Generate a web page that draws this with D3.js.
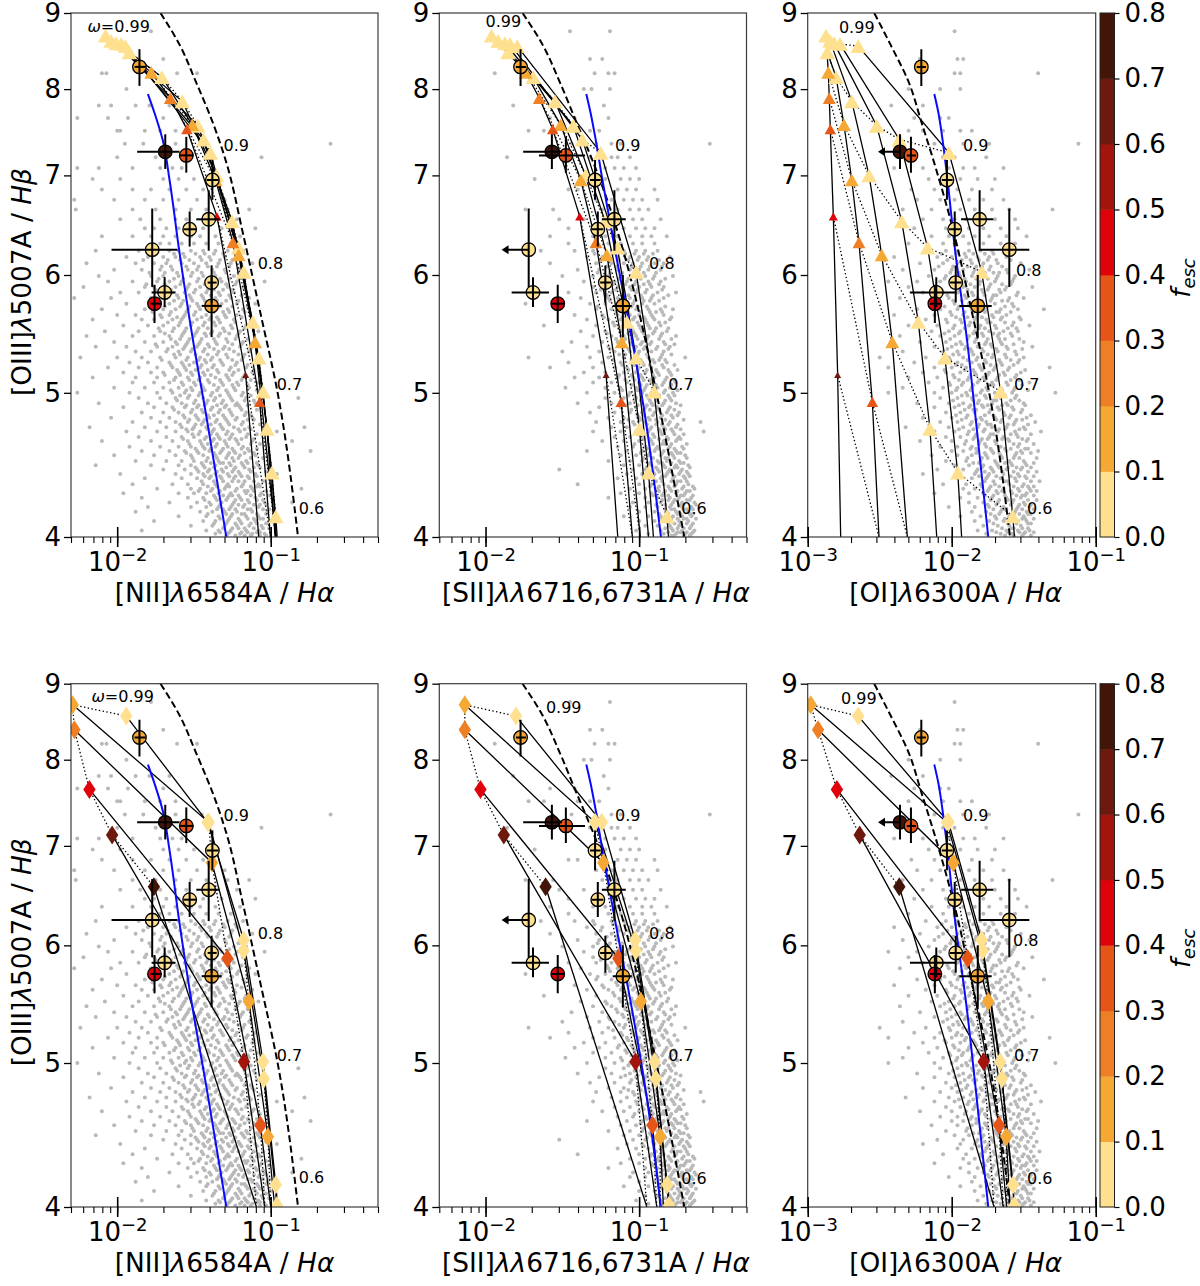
<!DOCTYPE html>
<html>
<head>
<meta charset="utf-8">
<script src="https://d3js.org/d3.v7.min.js"></script>
<style>
body { margin: 0; background: #fff; }
text { font-family: "DejaVu Sans"; fill: #000; }
</style>
</head>
<body>
<svg id="chart" width="1200" height="1286"></svg>
<script>
// every x value below is log10 of the line ratio, y values are [OIII]/Hb
var fescColors = ["#fee08e", "#f6a835", "#ef7f25", "#e55518", "#e0020b", "#a2140c", "#6e190e", "#421508"];
var fescTicks = [0, 0.1, 0.2, 0.3, 0.4, 0.5, 0.6, 0.7, 0.8];
var yTicks = [4, 5, 6, 7, 8, 9];

// observed galaxies, same order in all panels
var obsY = [8.28, 7.26, 7.22, 6.95, 6.54, 6.44, 6.24, 5.93, 5.84, 5.74, 5.72];
var obsYlo = [8.04, 7.07, 7.03, 6.74, 6.23, 6.27, 5.89, 5.75, 5.71, 5.57, 5.45];
var obsYhi = [8.51, 7.46, 7.43, 7.17, 6.84, 6.62, 6.65, 6.09, 5.98, 5.91, 6.00];
var obsFesc = [0.15, 0.75, 0.35, 0.05, 0.05, 0.05, 0.05, 0.05, 0.05, 0.45, 0.15];
var obsNII = [[-1.855,-1.887,-1.815],[-1.687,-1.870,-1.594],[-1.55,-1.594,-1.502],[-1.38,-1.417,-1.339],[-1.404,-1.485,-1.333],[-1.528,-1.568,-1.483],[-1.772,-2.037,-1.607],[-1.385,-1.411,-1.352],[-1.691,-1.776,-1.620],[-1.757,-1.783,-1.711],[-1.385,-1.450,-1.320]];
var obsSII = [[-1.772,-1.802,-1.737],[-1.568,-1.755,-1.502],[-1.477,-1.652,-1.352],[-1.287,-1.320,-1.250],[-1.161,-1.243,-1.087],[-1.269,-1.309,-1.233],[-1.719,-1.889,null],[-1.22,-1.254,-1.183],[-1.691,-1.830,-1.587],[-1.53,-1.569,-1.489],[-1.106,-1.172,-1.048]];
var obsOI = [[-2.211,-2.243,-2.179],[-2.359,-2.505,null],[-2.283,-2.312,-2.248],[-2.033,-2.069,-1.993],[-1.806,-1.935,-1.711],[-1.979,-2.019,-1.937],[-1.6,-1.808,-1.461],[-1.972,-2.012,-1.931],[-2.107,-2.290,-1.970],[-2.117,-2.151,-2.076],[-1.819,-1.947,-1.722]];

// blue ridge line
var blueY = [7.94, 7.71, 7.39, 6.95, 6.24, 5.43, 4.82, 4];
var blueNII = [-1.800,-1.757,-1.703,-1.659,-1.597,-1.507,-1.419,-1.289];
var blueSII = [-1.344,-1.316,-1.282,-1.239,-1.157,-1.046,-0.961,-0.858];
var blueOI = [-2.121,-2.092,-2.063,-2.029,-1.977,-1.894,-1.835,-1.746];

// dashed demarcation
var dashY = [9, 8.57, 8.08, 7.59, 7.14, 6.40, 5.62, 5.05, 4];
var dashNII = [-1.718,-1.594,-1.485,-1.376,-1.289,-1.181,-1.061,-0.963,-0.822];
var dashSII = [-1.759,-1.629,-1.515,-1.406,-1.298,-1.137,-0.993,-0.896,-0.706];
var dashOI = [-2.538,-2.425,-2.297,-2.208,-2.122,-1.984,-1.852,-1.748,-1.595];

// upper row model tracks: one row per track, last point of each is where it leaves the axes
var topY = [
	[8.55,7.25,6.03,5.01,4.13,4],
	[8.58,7.40,6.26,5.28,4.42,4],
	[8.59,7.56,6.52,5.58,4.73,4],
	[8.62,7.85,7.00,6.19,5.41,4],
	[8.47,8.15,7.57,6.95,6.31,4.93,4],
	[8.69,8.21,7.89,7.52,6.57,5.14,4]];
var topFesc = [
	[0.05,0.05,0.05,0.05,0.05],
	[0.05,0.05,0.05,0.05,0.05],
	[0.05,0.05,0.05,0.05,0.05],
	[0.05,0.05,0.05,0.15,0.15],
	[0.05,0.05,0.15,0.15,0.25,0.35],
	[0.05,0.15,0.25,0.35,0.45,0.65]];
var topNII = [
	[-1.946,-1.393,-1.176,-1.050,-0.967,-0.958],
	[-1.974,-1.437,-1.209,-1.078,-0.992,-0.964],
	[-2.007,-1.474,-1.252,-1.117,-1.024,-0.971],
	[-2.039,-1.576,-1.354,-1.209,-1.102,-0.967],
	[-1.920,-1.709,-1.511,-1.359,-1.246,-1.072,-1.002],
	[-2.076,-1.778,-1.654,-1.546,-1.350,-1.163,-1.078]];
var topSII = [
	[-1.794,-1.250,-1.020,-0.902,-0.819,-0.809],
	[-1.841,-1.370,-1.142,-1.020,-0.939,-0.907],
	[-1.874,-1.429,-1.222,-1.080,-0.998,-0.939],
	[-1.918,-1.548,-1.348,-1.211,-1.113,-0.993],
	[-1.853,-1.690,-1.511,-1.380,-1.281,-1.117,-1.044],
	[-1.961,-1.739,-1.650,-1.563,-1.387,-1.215,-1.139]];
var topOI = [
	[-2.649,-2.019,-1.792,-1.660,-1.576,-1.564],
	[-2.776,-2.364,-2.167,-2.047,-1.958,-1.931],
	[-2.817,-2.521,-2.347,-2.232,-2.151,-2.104],
	[-2.845,-2.694,-2.574,-2.486,-2.413,-2.308],
	[-2.864,-2.803,-2.748,-2.694,-2.644,-2.551,-2.505],
	[-2.873,-2.857,-2.850,-2.843,-2.822,-2.792,-2.771]];
// dotted lines of equal omega as [track, point]
var topRows = [
	[[0,0],[1,0],[2,0],[3,0],[5,0]],
	[[0,1],[1,1],[2,1],[3,1],[4,1],[4,0]],
	[[0,2],[1,2],[2,2],[3,2],[4,2],[5,1]],
	[[0,3],[1,3],[2,3],[3,3],[4,3],[5,2]],
	[[0,4],[1,4],[2,4],[3,4],[4,4],[5,3]],
	[[3,5],[4,5],[5,4]],
	[[4,6],[5,5]]];

// lower row model tracks
var botY = [
	[8.56,7.26,6.05,5.01,4.14,4],
	[8.71,7.26,5.95,4.88,4.01,4],
	[8.38,6.82,5.50,4.46,4],
	[7.64,5.88,4.54,4],
	[7.12,5.01,4],
	[6.57,4]];
var botFesc = [
	[0.05,0.05,0.05,0.05,0.05],
	[0.15,0.05,0.05,0.05,0.05],
	[0.25,0.15,0.15,0.15],
	[0.45,0.35,0.35],
	[0.65,0.55],
	[0.75]];
var botNII = [
	[-1.941,-1.411,-1.176,-1.050,-0.967,-0.954],
	[-2.290,-1.404,-1.176,-1.044,-0.959,-0.958],
	[-2.279,-1.383,-1.142,-1.018,-0.974],
	[-2.181,-1.282,-1.067,-1.000],
	[-2.033,-1.174,-1.039],
	[-1.761,-1.093]];
var botSII = [
	[-1.802,-1.243,-1.026,-0.900,-0.817,-0.804],
	[-2.135,-1.287,-1.022,-0.891,-0.806,-0.804],
	[-2.135,-1.233,-0.989,-0.863,-0.842],
	[-2.033,-1.135,-0.913,-0.863],
	[-1.881,-1.024,-0.885],
	[-1.609,-0.950]];
var botOI = [
	[-2.649,-2.022,-1.792,-1.663,-1.574,-1.564],
	[-2.979,-2.033,-1.785,-1.651,-1.565,-1.564],
	[-2.928,-1.989,-1.746,-1.621,-1.595],
	[-2.797,-1.889,-1.672,-1.618],
	[-2.639,-1.778,-1.642],
	[-2.364,-1.706]];
var botRows = [
	[[0,0],[1,0],[2,0],[3,0],[4,0],[5,0]],
	[[0,1],[1,1],[2,1],[3,1],[4,1],[5,1]],
	[[0,2],[1,2],[2,2],[3,2],[4,2]],
	[[0,3],[1,3],[2,3],[3,3]],
	[[0,4],[1,4],[2,4]]];

// omega labels as [text, log x, y]
var topLabelsNII = [["w",-2.194,8.82],["0.9",-1.307,7.34],["0.8",-1.085,6.11],["0.7",-0.961,5.07],["0.6",-0.817,4.18]];
var topLabelsSII = [["0.99",-2.0,8.88],["0.9",-1.157,7.34],["0.8",-0.935,6.11],["0.7",-0.811,5.07],["0.6",-0.726,4.18]];
var topLabelsOI = [["0.99",-2.783,8.81],["0.9",-1.922,7.34],["0.8",-1.554,6.04],["0.7",-1.567,5.07],["0.6",-1.477,4.18]];
var botLabelsNII = [["w",-2.168,8.83],["0.9",-1.307,7.34],["0.8",-1.085,6.11],["0.7",-0.961,5.06],["0.6",-0.817,4.19]];
var botLabelsSII = [["0.99",-1.607,8.68],["0.9",-1.157,7.34],["0.8",-0.935,6.11],["0.7",-0.811,5.06],["0.6",-0.726,4.18]];
var botLabelsOI = [["0.99",-2.769,8.80],["0.9",-1.922,7.34],["0.8",-1.574,6.05],["0.7",-1.567,5.06],["0.6",-1.477,4.18]];

var grayY = [8.75,8.38,8.2,8.0,7.8,7.65,7.5,7.35,7.2,7.08,6.96,6.85,6.74,6.64,6.54,6.45,6.37,6.3,6.23,6.17,6.11,6.05,5.99,5.94,5.89,5.84,5.79,5.74,5.69,5.64,5.6,5.55,5.5,5.46,5.41,5.37,5.33,5.28,5.24,5.2,5.16,5.12,5.08,5.04,5.0,4.96,4.92,4.89,4.85,4.81,4.78,4.74,4.71,4.67,4.64,4.6,4.57,4.54,4.5,4.47,4.44,4.41,4.38,4.34,4.31,4.28,4.25,4.22,4.19,4.16,4.13,4.1,4.07,4.04,4.02];
var grayNII = [
[-1.78],[-1.70],[-2.07,-2.10,-1.48,-1.61],[-1.94],[-2.12,-2.04,-1.79,-1.88,-1.66],[-2.26,-2.06,-1.93,-1.70],[-1.98,-1.82,-1.72,-1.62,-2.0],[-1.83,-1.62,-1.45,-1.95,-0.61],[-2.0,-1.75,-1.68,-1.55,-1.06],[-2.26,-2.12,-1.72,-1.64,-1.58,-1.9],[-1.98,-1.70,-1.60,-1.50,-1.38,-2.16],[-2.1,-1.9,-1.78,-1.66,-1.55,-1.44],[-2.28,-2.02,-1.82,-1.70,-1.60,-1.48,-1.3],[-2.27,-1.9,-1.75,-1.62,-1.52,-1.42,-1.28,-1.14],[-1.98,-1.85,-1.72,-1.62,-1.55,-1.38,-1.22],[-1.82,-1.76,-1.68,-1.6,-1.5,-1.44,-1.32,-1.1],[-2.1,-1.9,-1.78,-1.7,-1.62,-1.52,-1.46,-1.36,-1.2],[-1.72,-1.66,-1.58,-1.5,-1.42,-1.34,-1.26],
[-2.14,-1.86,-1.74,-1.66,-1.6,-1.52,-1.44,-1.36,-1.28,-1.18],[-1.94,-1.8,-1.7,-1.62,-1.56,-1.46,-1.4,-1.3,-1.22],[-2.2,-1.88,-1.76,-1.68,-1.58,-1.5,-1.42,-1.34,-1.26,-1.12],[-2.02,-1.84,-1.72,-1.64,-1.54,-1.48,-1.38,-1.3,-1.2],[-2.12,-1.78,-1.7,-1.6,-1.52,-1.44,-1.36,-1.24,-1.16],[-2.06,-1.9,-1.74,-1.66,-1.58,-1.48,-1.4,-1.32,-1.22,-1.04],[-2.22,-1.82,-1.76,-1.62,-1.54,-1.46,-1.38,-1.28,-1.18],[-1.98,-1.86,-1.72,-1.64,-1.56,-1.5,-1.42,-1.34,-1.24],[-2.28,-2.04,-1.78,-1.68,-1.6,-1.52,-1.44,-1.36,-1.26,-1.14],[-1.94,-1.74,-1.66,-1.58,-1.48,-1.4,-1.32,-1.22,-1.1],[-2.1,-1.82,-1.7,-1.62,-1.54,-1.46,-1.38,-1.28,-1.18],[-2.0,-1.88,-1.72,-1.66,-1.56,-1.5,-1.42,-1.3,-1.22],[-2.16,-1.84,-1.76,-1.64,-1.58,-1.48,-1.4,-1.34,-1.24,-1.12],[-1.96,-1.8,-1.7,-1.6,-1.52,-1.44,-1.36,-1.26,-1.16],[-2.08,-1.86,-1.72,-1.64,-1.56,-1.48,-1.38,-1.3,-1.2,-1.08],[-2.2,-1.9,-1.76,-1.66,-1.58,-1.5,-1.42,-1.34,-1.22],[-2.02,-1.82,-1.7,-1.62,-1.54,-1.46,-1.36,-1.28,-1.18],[-2.14,-1.94,-1.74,-1.64,-1.56,-1.48,-1.4,-1.3,-1.2],[-1.88,-1.78,-1.68,-1.6,-1.52,-1.44,-1.34,-1.24,-1.14],[-2.24,-2.0,-1.84,-1.72,-1.62,-1.54,-1.46,-1.38,-1.28,-1.18],[-1.92,-1.8,-1.66,-1.58,-1.5,-1.42,-1.32,-1.22,-1.1],[-2.06,-1.86,-1.74,-1.64,-1.56,-1.46,-1.38,-1.26,-1.16],[-1.96,-1.78,-1.7,-1.6,-1.52,-1.44,-1.34,-1.24,-1.12],[-2.16,-1.88,-1.74,-1.62,-1.54,-1.46,-1.36,-1.28,-1.18],[-1.9,-1.76,-1.66,-1.58,-1.5,-1.4,-1.32,-1.22,-1.08],[-2.02,-1.82,-1.7,-1.6,-1.52,-1.44,-1.34,-1.24,-1.14],[-2.26,-1.92,-1.74,-1.64,-1.56,-1.46,-1.38,-1.28,-1.18],[-1.86,-1.72,-1.62,-1.54,-1.44,-1.36,-1.26,-1.16,-0.82],[-2.12,-1.8,-1.68,-1.58,-1.5,-1.42,-1.32,-1.22,-1.1],[-1.96,-1.76,-1.64,-1.56,-1.48,-1.38,-1.3,-1.2],[-1.84,-1.7,-1.6,-1.52,-1.44,-1.34,-1.26,-1.16],[-2.04,-1.78,-1.66,-1.56,-1.48,-1.4,-1.3,-1.22,-1.12],[-1.9,-1.72,-1.62,-1.54,-1.44,-1.36,-1.28,-1.18],[-2.18,-1.82,-1.68,-1.58,-1.5,-1.42,-1.32,-1.24,-1.14,-0.78],[-1.94,-1.74,-1.62,-1.54,-1.46,-1.38,-1.28,-1.2,-0.96],[-1.86,-1.68,-1.58,-1.5,-1.42,-1.34,-1.26,-1.16],[-2.1,-1.78,-1.64,-1.54,-1.46,-1.38,-1.3,-1.22,-1.12,-0.86],[-1.92,-1.72,-1.6,-1.52,-1.44,-1.36,-1.28,-1.18],[-1.84,-1.66,-1.56,-1.48,-1.4,-1.32,-1.24,-1.14,-0.74],[-2.02,-1.76,-1.62,-1.52,-1.44,-1.36,-1.28,-1.2,-1.1],[-1.88,-1.68,-1.58,-1.5,-1.42,-1.34,-1.24,-1.16],[-2.14,-1.78,-1.6,-1.52,-1.44,-1.36,-1.26,-1.18,-1.08],[-1.7,-1.56,-1.48,-1.4,-1.32,-1.24,-1.14],[-1.98,-1.62,-1.52,-1.44,-1.36,-1.28,-1.2,-1.1,-0.96],[-1.82,-1.58,-1.48,-1.4,-1.32,-1.24,-1.14],[-1.9,-1.64,-1.54,-1.44,-1.36,-1.28,-1.18,-1.08],[-1.74,-1.52,-1.46,-1.38,-1.3,-1.22,-1.12,-0.8],[-1.96,-1.6,-1.5,-1.42,-1.34,-1.26,-1.16,-1.06],[-1.84,-1.54,-1.44,-1.36,-1.28,-1.2,-1.1],[-1.66,-1.48,-1.4,-1.32,-1.24,-1.14,-1.04,-0.86],[-1.8,-1.52,-1.42,-1.34,-1.26,-1.18,-1.08],[-1.88,-1.46,-1.38,-1.3,-1.22,-1.12,-1.02],[-1.6,-1.42,-1.34,-1.26,-1.16,-1.08],[-1.76,-1.44,-1.36,-1.28,-1.2,-1.1,-1.0],[-1.52,-1.38,-1.3,-1.22,-1.14,-1.06],[-1.84,-1.42,-1.34,-1.26,-1.16,-1.08],[-1.36,-1.28,-1.2,-1.12,-1.04]];
var graySII = [
[-1.19,-1.45],[-1.32,-1.24],[-1.29,-1.2,-1.16,-1.94],[-1.31,-1.36,-1.19],[-1.23,-1.82],[-1.58,-1.42,-1.2],[-1.72,-1.62,-1.4,-1.32,-1.26],[-1.44,-1.28,-1.18,-1.12,-0.54],[-1.32,-1.18,-1.14,-1.06,-1.86],[-1.22,-1.16,-1.1,-1.02],[-1.68,-1.22,-1.12,-1.06,-1.0],[-1.46,-1.4,-1.14,-1.08,-1.02,-0.9],[-1.28,-1.18,-1.1,-1.04,-0.98,-0.88],[-1.74,-1.56,-1.24,-1.14,-1.06,-1.0,-0.94],[-1.52,-1.36,-1.2,-1.12,-1.04,-0.98,-0.86],[-1.46,-1.28,-1.16,-1.1,-1.02,-0.96,-0.9],[-1.58,-1.3,-1.22,-1.14,-1.06,-0.98,-0.92,-0.82],[-1.46,-1.2,-1.12,-1.04,-0.98,-0.9],
[-1.64,-1.42,-1.3,-1.18,-1.1,-1.02,-0.96,-0.88],[-1.34,-1.24,-1.14,-1.06,-1.0,-0.94,-0.8],[-1.58,-1.28,-1.18,-1.1,-1.04,-0.98,-0.9,-0.84],[-1.4,-1.26,-1.14,-1.06,-1.0,-0.94,-0.86],[-1.5,-1.3,-1.2,-1.12,-1.04,-0.96,-0.9,-0.78],[-1.36,-1.24,-1.16,-1.08,-1.02,-0.94,-0.86],[-1.3,-1.22,-1.14,-1.06,-1.0,-0.92,-0.84],[-1.46,-1.28,-1.18,-1.1,-1.02,-0.96,-0.88,-0.76],[-1.38,-1.2,-1.14,-1.06,-0.98,-0.92,-0.84],[-1.74,-1.32,-1.22,-1.12,-1.04,-0.98,-0.9],[-1.28,-1.18,-1.1,-1.02,-0.94,-0.86,-0.78],[-1.42,-1.24,-1.14,-1.06,-1.0,-0.92,-0.84],[-1.34,-1.2,-1.12,-1.04,-0.96,-0.9,-0.8],[-1.62,-1.28,-1.16,-1.08,-1.0,-0.94,-0.86],[-1.38,-1.22,-1.12,-1.04,-0.98,-0.9,-0.82],[-1.3,-1.18,-1.1,-1.02,-0.94,-0.86,-0.76],[-1.44,-1.24,-1.14,-1.06,-0.98,-0.92,-0.84],[-1.34,-1.2,-1.1,-1.02,-0.96,-0.88,-0.8],[-1.5,-1.26,-1.16,-1.06,-1.0,-0.92,-0.84],[-1.72,-1.32,-1.2,-1.1,-1.02,-0.94,-0.86,-0.7],[-1.46,-1.24,-1.12,-1.04,-0.98,-0.9,-0.82],[-1.58,-1.3,-1.16,-1.08,-1.0,-0.92,-0.84],[-1.36,-1.22,-1.1,-1.02,-0.96,-0.88,-0.8],[-1.42,-1.26,-1.14,-1.04,-0.98,-0.9,-0.82],[-1.3,-1.18,-1.08,-1.0,-0.92,-0.84,-0.76],[-1.48,-1.22,-1.12,-1.02,-0.96,-0.88,-0.8],[-1.34,-1.16,-1.06,-0.98,-0.92,-0.84,-0.78],[-1.22,-1.1,-1.02,-0.94,-0.88,-0.8],[-1.4,-1.18,-1.06,-0.98,-0.92,-0.84,-0.76],[-1.26,-1.12,-1.02,-0.96,-0.88,-0.8],[-1.32,-1.16,-1.06,-0.98,-0.9,-0.82,-0.74],[-1.2,-1.1,-1.0,-0.94,-0.86,-0.78],[-1.28,-1.12,-1.04,-0.96,-0.88,-0.8,-0.6],[-1.18,-1.08,-1.0,-0.92,-0.84,-0.76],[-1.3,-1.12,-1.02,-0.94,-0.86,-0.78,-0.58],[-1.16,-1.06,-0.98,-0.9,-0.82,-0.74],[-1.24,-1.1,-1.0,-0.92,-0.84,-0.76],[-1.14,-1.04,-0.96,-0.88,-0.8,-0.72],[-1.34,-1.08,-0.98,-0.9,-0.84,-0.76],[-1.12,-1.02,-0.94,-0.86,-0.78,-0.7],[-1.2,-1.06,-0.98,-0.88,-0.82,-0.74],[-1.1,-1.0,-0.92,-0.84,-0.76,-0.68],[-1.52,-1.04,-0.96,-0.88,-0.8,-0.72],[-1.08,-0.98,-0.9,-0.82,-0.74,-0.68],[-1.14,-1.02,-0.94,-0.86,-0.78,-0.7],[-1.4,-1.0,-0.92,-0.84,-0.76,-0.68],[-1.06,-0.96,-0.88,-0.8,-0.72,-0.64],[-1.12,-1.0,-0.92,-0.84,-0.76,-0.7],[-1.2,-0.96,-0.88,-0.8,-0.74,-0.66],[-1.04,-0.94,-0.86,-0.78,-0.72,-0.64],[-1.06,-0.96,-0.88,-0.8,-0.72,-0.66],[-1.0,-0.9,-0.82,-0.76,-0.68],[-1.1,-0.94,-0.86,-0.78,-0.72,-0.66],[-1.0,-0.9,-0.82,-0.74,-0.68],[-0.96,-0.88,-0.8,-0.74,-0.66],[-1.02,-0.86,-0.78,-0.72,-0.64],[-0.94,-0.84,-0.76,-0.7,-0.66]];
var grayOI = [
[-1.98],[-2.22,-1.96,-1.92],[-1.98,-1.94,-1.4],[-2.3,-2.08,-1.94],[-2.42,-2.2],[-2.26,-2.02,-2.08],[-2.2,-2.3,-2.06,-1.94,-1.86],[-2.12,-1.92,-1.74,-1.12],[-2.3,-2.06,-1.98,-1.76],[-2.4,-2.2,-2.02,-1.92,-1.84,-1.64],[-2.16,-2.0,-1.94,-1.82,-1.7],[-2.28,-2.12,-1.96,-1.86,-1.72],[-2.24,-2.08,-1.98,-1.88,-1.78,-1.64],[-2.34,-2.14,-2.02,-1.94,-1.84,-1.72,-1.6,-1.3],[-2.2,-2.06,-1.98,-1.9,-1.8,-1.7,-1.56],[-2.26,-2.04,-1.96,-1.88,-1.78,-1.66,-1.54],[-2.14,-2.02,-1.92,-1.84,-1.74,-1.62,-1.48],[-2.3,-2.06,-1.98,-1.88,-1.78,-1.66,-1.56],
[-2.18,-2.04,-1.96,-1.88,-1.8,-1.72,-1.6],[-2.4,-2.1,-2.0,-1.9,-1.82,-1.74,-1.62],[-2.22,-2.06,-1.96,-1.86,-1.78,-1.68,-1.52],[-2.34,-2.12,-2.0,-1.92,-1.84,-1.74,-1.62,-1.46],[-2.16,-2.04,-1.94,-1.86,-1.78,-1.68,-1.56],[-2.44,-2.24,-2.08,-1.98,-1.9,-1.8,-1.7,-1.58],[-2.3,-2.12,-2.0,-1.92,-1.84,-1.74,-1.62,-1.44],[-2.2,-2.06,-1.96,-1.86,-1.78,-1.66,-1.54],[-2.36,-2.14,-2.02,-1.9,-1.82,-1.72,-1.6,-1.5],[-2.1,-1.98,-1.88,-1.8,-1.7,-1.58],[-2.24,-2.08,-1.96,-1.86,-1.76,-1.66,-1.54,-1.36],[-2.4,-2.12,-2.0,-1.92,-1.82,-1.72,-1.62],[-2.18,-2.04,-1.94,-1.84,-1.76,-1.66,-1.52],[-2.3,-2.1,-1.98,-1.88,-1.8,-1.7,-1.58,-1.46],[-2.14,-2.02,-1.94,-1.84,-1.74,-1.64,-1.54],[-2.36,-2.08,-1.98,-1.88,-1.78,-1.68,-1.58],[-2.22,-2.04,-1.94,-1.84,-1.76,-1.66,-1.5],[-2.12,-2.0,-1.9,-1.82,-1.72,-1.62,-1.44],[-2.34,-2.06,-1.96,-1.86,-1.78,-1.68,-1.56],[-2.5,-2.18,-2.02,-1.92,-1.82,-1.72,-1.62,-1.5],[-2.26,-2.08,-1.96,-1.86,-1.76,-1.66,-1.54],[-2.44,-2.12,-2.0,-1.9,-1.8,-1.7,-1.6,-1.32],[-2.2,-2.04,-1.94,-1.84,-1.74,-1.64,-1.52],[-2.3,-2.1,-1.98,-1.88,-1.78,-1.68,-1.56],[-2.16,-2.02,-1.92,-1.82,-1.72,-1.62,-1.46],[-2.34,-2.06,-1.96,-1.86,-1.76,-1.66,-1.56],[-2.44,-2.12,-2.0,-1.9,-1.8,-1.7,-1.58,-1.28],[-2.08,-1.96,-1.86,-1.76,-1.66,-1.56],[-2.24,-2.02,-1.92,-1.82,-1.72,-1.62,-1.5],[-2.12,-1.98,-1.88,-1.78,-1.68,-1.58],[-2.04,-1.94,-1.84,-1.74,-1.64,-1.52],[-2.2,-2.0,-1.9,-1.8,-1.7,-1.6,-1.48],[-2.08,-1.96,-1.86,-1.76,-1.66,-1.56,-1.42],[-2.32,-2.02,-1.92,-1.82,-1.72,-1.62,-1.5],[-2.12,-1.98,-1.88,-1.78,-1.68,-1.56,-1.38],[-2.04,-1.94,-1.84,-1.74,-1.64,-1.54],[-2.22,-2.0,-1.9,-1.8,-1.7,-1.6,-1.48],[-2.08,-1.96,-1.86,-1.76,-1.66,-1.54],[-2.0,-1.92,-1.82,-1.72,-1.62,-1.52,-1.4],[-2.14,-1.96,-1.86,-1.76,-1.66,-1.56],[-2.04,-1.9,-1.8,-1.7,-1.6,-1.5],[-1.98,-1.88,-1.78,-1.68,-1.58,-1.48],[-2.1,-1.92,-1.82,-1.72,-1.62,-1.52],[-2.2,-1.94,-1.84,-1.74,-1.64,-1.54],[-1.96,-1.86,-1.76,-1.66,-1.56,-1.48],[-2.06,-1.9,-1.8,-1.7,-1.6,-1.5],[-1.92,-1.84,-1.74,-1.64,-1.54,-1.46],[-2.12,-1.88,-1.78,-1.68,-1.58,-1.48],[-1.94,-1.82,-1.72,-1.62,-1.52],[-1.88,-1.78,-1.68,-1.58,-1.5],[-2.02,-1.84,-1.74,-1.64,-1.54,-1.46],[-1.86,-1.76,-1.66,-1.56,-1.48],[-1.94,-1.8,-1.7,-1.6,-1.5],[-1.84,-1.74,-1.64,-1.54,-1.48],[-1.78,-1.68,-1.6,-1.52],[-1.82,-1.72,-1.62,-1.54,-1.46],[-1.76,-1.66,-1.58,-1.5]];

// second pass over the dense core, bands between the ones above
var coreY = [6.2,6.14,6.08,6.02,5.965,5.915,5.865,5.815,5.765,5.715,5.665,5.62,5.575,5.525,5.48,5.435,5.39,5.35,5.305,5.26,5.22,5.18,5.14,5.1,5.06,5.02,4.98,4.94,4.905,4.87,4.83,4.795,4.76,4.725,4.69,4.655,4.62,4.585,4.555,4.52,4.485,4.455,4.425,4.395,4.36,4.325,4.295,4.265,4.235,4.205,4.175,4.145,4.115,4.085,4.055,4.03,4.01];
var coreNII = [
[-1.77,-1.63,-1.57,-1.49,-1.43,-1.37,-1.31,-1.23],[-1.83,-1.67,-1.59,-1.53,-1.45,-1.39,-1.33,-1.25],[-1.71,-1.65,-1.55,-1.47,-1.41,-1.35,-1.27,-1.19],[-1.79,-1.69,-1.61,-1.51,-1.45,-1.37,-1.29,-1.21],[-1.73,-1.63,-1.57,-1.47,-1.39,-1.33,-1.27,-1.17],[-1.81,-1.69,-1.59,-1.53,-1.43,-1.35,-1.29,-1.23],[-1.75,-1.65,-1.55,-1.49,-1.41,-1.37,-1.31,-1.25],[-1.67,-1.61,-1.53,-1.45,-1.39,-1.33,-1.27,-1.19],[-1.73,-1.63,-1.57,-1.51,-1.43,-1.35,-1.29,-1.21],[-1.69,-1.59,-1.53,-1.47,-1.41,-1.33,-1.25,-1.15],[-1.77,-1.65,-1.55,-1.49,-1.37,-1.31,-1.27,-1.17],[-1.71,-1.61,-1.57,-1.45,-1.39,-1.35,-1.29,-1.19],[-1.67,-1.59,-1.51,-1.43,-1.37,-1.33,-1.23,-1.13],[-1.73,-1.63,-1.55,-1.47,-1.41,-1.31,-1.25,-1.17],[-1.69,-1.57,-1.49,-1.43,-1.39,-1.33,-1.27,-1.21],[-1.65,-1.59,-1.53,-1.45,-1.37,-1.29,-1.23,-1.15],[-1.75,-1.61,-1.55,-1.47,-1.41,-1.35,-1.25,-1.19],[-1.67,-1.57,-1.51,-1.43,-1.37,-1.31,-1.27,-1.13],[-1.63,-1.59,-1.49,-1.41,-1.35,-1.29,-1.21,-1.17],[-1.71,-1.55,-1.47,-1.43,-1.39,-1.33,-1.25,-1.19],[-1.65,-1.57,-1.53,-1.45,-1.37,-1.31,-1.23,-1.15],[-1.61,-1.55,-1.49,-1.41,-1.35,-1.27,-1.21,-1.11],[-1.69,-1.59,-1.51,-1.43,-1.39,-1.29,-1.25,-1.17],[-1.63,-1.53,-1.47,-1.41,-1.33,-1.27,-1.19,-1.13],[-1.57,-1.49,-1.45,-1.37,-1.31,-1.25,-1.21,-1.15],[-1.65,-1.55,-1.51,-1.43,-1.35,-1.29,-1.23,-1.09],[-1.59,-1.53,-1.47,-1.39,-1.33,-1.27,-1.19,-1.13],[-1.61,-1.49,-1.41,-1.37,-1.31,-1.25,-1.17,-1.11],[-1.55,-1.47,-1.43,-1.35,-1.29,-1.23,-1.21,-1.15],[-1.63,-1.51,-1.45,-1.39,-1.33,-1.27,-1.19,-1.09],[-1.57,-1.49,-1.41,-1.37,-1.31,-1.25,-1.17,-1.13],[-1.53,-1.47,-1.43,-1.35,-1.29,-1.23,-1.15,-1.11],[-1.59,-1.49,-1.45,-1.39,-1.33,-1.27,-1.19,-1.07],[-1.55,-1.51,-1.41,-1.37,-1.31,-1.21,-1.17,-1.13],[-1.51,-1.47,-1.39,-1.35,-1.29,-1.25,-1.15,-1.09],[-1.57,-1.43,-1.37,-1.33,-1.27,-1.23,-1.19,-1.11],[-1.53,-1.45,-1.41,-1.35,-1.29,-1.21,-1.13,-1.07],[-1.49,-1.43,-1.39,-1.31,-1.25,-1.19,-1.15,-1.09],[-1.55,-1.47,-1.37,-1.33,-1.27,-1.23,-1.17,-1.11],[-1.51,-1.41,-1.35,-1.29,-1.25,-1.21,-1.13,-1.05],[-1.45,-1.39,-1.33,-1.31,-1.27,-1.19,-1.15,-1.09],[-1.49,-1.43,-1.37,-1.29,-1.23,-1.17,-1.11,-1.07],[-1.47,-1.41,-1.35,-1.31,-1.25,-1.21,-1.13,-1.03],[-1.43,-1.39,-1.33,-1.27,-1.23,-1.19,-1.15,-1.09],[-1.45,-1.37,-1.31,-1.25,-1.21,-1.17,-1.11,-1.05],[-1.41,-1.35,-1.29,-1.27,-1.19,-1.13,-1.09,-1.07],[-1.47,-1.39,-1.33,-1.23,-1.17,-1.15,-1.11,-1.03],[-1.37,-1.31,-1.27,-1.25,-1.21,-1.13,-1.07,-1.01],[-1.43,-1.35,-1.29,-1.23,-1.19,-1.15,-1.09,-1.05],[-1.39,-1.33,-1.25,-1.21,-1.17,-1.11,-1.07,-1.03],[-1.35,-1.31,-1.27,-1.23,-1.15,-1.13,-1.05,-1.01],[-1.41,-1.29,-1.25,-1.19,-1.17,-1.09,-1.03],[-1.33,-1.27,-1.21,-1.15,-1.11,-1.07,-1.05],[-1.37,-1.29,-1.23,-1.19,-1.13,-1.09,-1.03],[-1.31,-1.25,-1.21,-1.17,-1.11,-1.05,-1.01],[-1.33,-1.27,-1.19,-1.15,-1.09,-1.07],[-1.29,-1.23,-1.17,-1.13,-1.07,-1.03]];
var coreSII = [
[-1.29,-1.17,-1.09,-1.03,-0.97,-0.91],[-1.25,-1.13,-1.07,-1.01,-0.95,-0.87],[-1.21,-1.15,-1.05,-0.99,-0.93,-0.85],[-1.27,-1.19,-1.11,-1.03,-0.97,-0.89],[-1.23,-1.13,-1.07,-0.99,-0.91,-0.83],[-1.17,-1.09,-1.03,-0.97,-0.93,-0.87],[-1.25,-1.15,-1.05,-1.01,-0.95,-0.85],[-1.21,-1.11,-1.07,-0.99,-0.91,-0.81],[-1.19,-1.13,-1.03,-0.97,-0.93,-0.87],[-1.27,-1.09,-1.05,-1.01,-0.95,-0.83],[-1.15,-1.07,-0.99,-0.93,-0.89,-0.85],[-1.23,-1.11,-1.03,-0.97,-0.91,-0.79],[-1.17,-1.09,-1.01,-0.95,-0.87,-0.83],[-1.13,-1.05,-0.99,-0.93,-0.89,-0.81],[-1.21,-1.07,-1.03,-0.97,-0.91,-0.85],[-1.15,-1.09,-1.01,-0.95,-0.87,-0.79],[-1.11,-1.05,-0.99,-0.93,-0.83,-0.77],[-1.19,-1.07,-1.03,-0.97,-0.89,-0.81],[-1.13,-1.09,-1.01,-0.95,-0.85,-0.79],[-1.17,-1.05,-0.99,-0.91,-0.87,-0.83],[-1.11,-1.03,-0.97,-0.93,-0.85,-0.77],[-1.07,-1.01,-0.95,-0.89,-0.81,-0.75],[-1.13,-1.05,-0.99,-0.91,-0.87,-0.79],[-1.09,-1.03,-0.97,-0.93,-0.83,-0.77],[-1.05,-0.99,-0.95,-0.89,-0.85,-0.79],[-1.11,-1.01,-0.97,-0.91,-0.83,-0.75],[-1.07,-1.03,-0.95,-0.87,-0.81,-0.77],[-1.03,-0.99,-0.93,-0.89,-0.83,-0.79],[-1.09,-1.01,-0.95,-0.91,-0.85,-0.73],[-1.05,-0.97,-0.93,-0.87,-0.81,-0.77],[-1.01,-0.97,-0.91,-0.85,-0.79,-0.75],[-1.07,-0.99,-0.93,-0.89,-0.83,-0.71],[-1.03,-0.95,-0.89,-0.85,-0.81,-0.75],[-0.99,-0.93,-0.87,-0.83,-0.79,-0.73],[-1.01,-0.95,-0.91,-0.85,-0.77,-0.71],[-0.97,-0.93,-0.87,-0.81,-0.75,-0.73],[-1.03,-0.91,-0.85,-0.83,-0.79,-0.69],[-0.95,-0.89,-0.87,-0.81,-0.77,-0.71],[-0.99,-0.93,-0.85,-0.79,-0.75,-0.73],[-0.97,-0.91,-0.83,-0.81,-0.77,-0.69],[-0.93,-0.87,-0.85,-0.79,-0.73,-0.71],[-0.95,-0.89,-0.83,-0.77,-0.75,-0.67],[-0.91,-0.87,-0.81,-0.79,-0.73,-0.69],[-0.97,-0.85,-0.83,-0.77,-0.71,-0.67],[-0.89,-0.85,-0.79,-0.75,-0.73,-0.69],[-0.93,-0.87,-0.81,-0.77,-0.71,-0.65],[-0.87,-0.83,-0.79,-0.75,-0.69,-0.67],[-0.91,-0.85,-0.81,-0.73,-0.71,-0.65],[-0.85,-0.81,-0.77,-0.75,-0.69,-0.67],[-0.89,-0.83,-0.79,-0.73,-0.71,-0.63],[-0.83,-0.79,-0.77,-0.71,-0.69,-0.65],[-0.87,-0.81,-0.75,-0.73,-0.67,-0.65],[-0.85,-0.79,-0.75,-0.71,-0.69,-0.63],[-0.81,-0.77,-0.73,-0.69,-0.65],[-0.83,-0.79,-0.75,-0.71,-0.67],[-0.81,-0.75,-0.73,-0.69,-0.65],[-0.79,-0.77,-0.71,-0.67]];
var coreOI = [
[-2.07,-1.97,-1.91,-1.85,-1.77,-1.71,-1.63],[-2.03,-1.93,-1.87,-1.81,-1.75,-1.69,-1.59],[-2.09,-1.99,-1.89,-1.83,-1.79,-1.73,-1.65],[-2.01,-1.95,-1.85,-1.77,-1.71,-1.67,-1.61],[-2.05,-1.97,-1.91,-1.83,-1.75,-1.69,-1.57],[-1.99,-1.93,-1.87,-1.81,-1.73,-1.65,-1.59],[-2.07,-1.95,-1.89,-1.79,-1.75,-1.67,-1.63],[-2.03,-1.91,-1.85,-1.77,-1.71,-1.69,-1.55],[-1.99,-1.93,-1.83,-1.79,-1.73,-1.65,-1.61],[-2.05,-1.95,-1.87,-1.81,-1.75,-1.63,-1.57],[-2.01,-1.91,-1.85,-1.77,-1.69,-1.67,-1.59],[-1.97,-1.89,-1.83,-1.79,-1.71,-1.65,-1.53],[-2.03,-1.93,-1.87,-1.75,-1.73,-1.63,-1.57],[-1.99,-1.91,-1.81,-1.77,-1.69,-1.61,-1.55],[-2.05,-1.95,-1.85,-1.79,-1.71,-1.67,-1.59],[-2.01,-1.89,-1.83,-1.75,-1.67,-1.63,-1.53],[-1.97,-1.93,-1.81,-1.77,-1.73,-1.65,-1.57],[-2.03,-1.91,-1.87,-1.79,-1.69,-1.61,-1.51],[-1.99,-1.95,-1.85,-1.75,-1.71,-1.63,-1.55],[-2.01,-1.89,-1.83,-1.77,-1.67,-1.59,-1.53],[-1.97,-1.93,-1.81,-1.73,-1.69,-1.65,-1.57],[-2.05,-1.91,-1.85,-1.79,-1.71,-1.61,-1.49],[-1.99,-1.87,-1.83,-1.75,-1.67,-1.63,-1.55],[-1.95,-1.89,-1.81,-1.77,-1.69,-1.59,-1.53],[-2.01,-1.93,-1.85,-1.73,-1.71,-1.61,-1.51],[-1.97,-1.87,-1.79,-1.75,-1.65,-1.57,-1.47],[-1.93,-1.89,-1.83,-1.77,-1.67,-1.63,-1.55],[-1.99,-1.85,-1.81,-1.71,-1.69,-1.59,-1.53],[-1.95,-1.87,-1.79,-1.75,-1.65,-1.61,-1.49],[-1.91,-1.85,-1.83,-1.73,-1.67,-1.57,-1.51],[-1.97,-1.89,-1.77,-1.71,-1.63,-1.59,-1.45],[-1.93,-1.83,-1.79,-1.69,-1.65,-1.55,-1.51],[-1.87,-1.81,-1.75,-1.73,-1.61,-1.57,-1.47],[-1.95,-1.85,-1.77,-1.67,-1.63,-1.53,-1.49],[-1.89,-1.83,-1.73,-1.71,-1.59,-1.55,-1.45],[-1.85,-1.79,-1.75,-1.65,-1.61,-1.51,-1.47],[-1.91,-1.81,-1.77,-1.69,-1.57,-1.53,-1.43],[-1.87,-1.83,-1.73,-1.63,-1.59,-1.49,-1.47],[-1.83,-1.77,-1.71,-1.67,-1.55,-1.51,-1.45],[-1.89,-1.79,-1.75,-1.65,-1.57,-1.53,-1.41],[-1.85,-1.81,-1.69,-1.63,-1.59,-1.49,-1.43],[-1.79,-1.73,-1.67,-1.61,-1.55,-1.51,-1.45],[-1.83,-1.77,-1.71,-1.65,-1.57,-1.47,-1.41],[-1.81,-1.75,-1.69,-1.59,-1.53,-1.49,-1.43],[-1.77,-1.71,-1.63,-1.61,-1.55,-1.45,-1.39],[-1.79,-1.73,-1.67,-1.57,-1.51,-1.47,-1.43],[-1.75,-1.69,-1.65,-1.59,-1.53,-1.45,-1.41],[-1.77,-1.71,-1.63,-1.55,-1.51,-1.49,-1.43],[-1.73,-1.67,-1.61,-1.57,-1.47,-1.41],[-1.75,-1.69,-1.59,-1.53,-1.49,-1.45],[-1.71,-1.65,-1.63,-1.55,-1.51,-1.43],[-1.73,-1.67,-1.57,-1.53,-1.47,-1.45],[-1.69,-1.63,-1.59,-1.51,-1.49,-1.43],[-1.71,-1.61,-1.55,-1.47,-1.45],[-1.65,-1.59,-1.57,-1.51,-1.47],[-1.69,-1.61,-1.53,-1.49,-1.43],[-1.63,-1.57,-1.51,-1.45]];

var svg = d3.select("#chart");
var fesc = d3.scaleQuantize().domain([0, 0.8]).range(fescColors);
var triWidth = d3.scaleQuantize().domain([0, 0.8]).range([15.5, 14, 13, 11.5, 9, 8, 7, 7]);

function triangle(w) {
	return { draw: function(ctx) {
		var h = w * 0.9;
		ctx.moveTo(0, -h / 2);
		ctx.lineTo(w / 2, h / 2);
		ctx.lineTo(-w / 2, h / 2);
		ctx.closePath();
	}};
}
var thinDiamond = { draw: function(ctx) {
	ctx.moveTo(0, -9.5);
	ctx.lineTo(6.2, 0);
	ctx.lineTo(0, 9.5);
	ctx.lineTo(-6.2, 0);
	ctx.closePath();
}};

function decades(lo, hi) {
	var out = [];
	for (var e = lo; e <= hi; e++) {
		for (var m = 1; m <= 9; m++) out.push(m * Math.pow(10, e));
	}
	return out;
}

function panel(o) {
	var g = svg.append("g");
	var x = d3.scaleLog().domain(o.domain).range([o.left, o.right]);
	var y = d3.scaleLog().domain([4, 9]).range([o.bottom, o.top]);
	var px = function(v) { return x(Math.pow(10, v)); };
	var clipId = "clip" + o.id;
	g.append("clipPath").attr("id", clipId).append("rect")
		.attr("x", o.left).attr("y", o.top)
		.attr("width", o.right - o.left).attr("height", o.bottom - o.top);

	var plot = g.append("g").attr("clip-path", "url(#" + clipId + ")");

	// grey cloud
	var grayPts = [];
	o.gray.forEach(function(row, i) {
		row.forEach(function(v) { grayPts.push([v, grayY[i]]); });
	});
	o.core.forEach(function(row, i) {
		row.forEach(function(v) { grayPts.push([v, coreY[i]]); });
	});
	plot.selectAll("circle.gray").data(grayPts).enter().append("circle")
		.attr("class", "gray")
		.attr("cx", function(d) { return px(d[0]); })
		.attr("cy", function(d) { return y(d[1]); })
		.attr("r", 2)
		.attr("fill", "#b9b9b9");

	var line = d3.line()
		.x(function(d) { return px(d[0]); })
		.y(function(d) { return y(d[1]); })
		.curve(d3.curveMonotoneY);
	var straight = d3.line()
		.x(function(d) { return px(d[0]); })
		.y(function(d) { return y(d[1]); });

	plot.append("path")
		.attr("d", line(d3.zip(o.dash, dashY)))
		.attr("fill", "none").attr("stroke", "#000").attr("stroke-width", 2)
		.attr("stroke-dasharray", "7,3.5");

	// model tracks and equal omega rows
	o.tracks.forEach(function(t, i) {
		plot.append("path")
			.attr("d", straight(d3.zip(t, o.trackY[i])))
			.attr("fill", "none").attr("stroke", "#000").attr("stroke-width", 1.3);
	});
	o.rows.forEach(function(r) {
		var pts = r.map(function(p) { return [o.tracks[p[0]][p[1]], o.trackY[p[0]][p[1]]]; });
		plot.append("path")
			.attr("d", straight(pts))
			.attr("fill", "none").attr("stroke", "#000").attr("stroke-width", 1.3)
			.attr("stroke-dasharray", "1.4,2.4");
	});

	plot.append("path")
		.attr("d", line(d3.zip(o.blue, blueY)))
		.attr("fill", "none").attr("stroke", "#0a0aff").attr("stroke-width", 2);

	// model markers, colour from fesc
	o.tracks.forEach(function(t, i) {
		o.trackFesc[i].forEach(function(f, j) {
			var sym = o.marker == "tri" ? d3.symbol().type(triangle(triWidth(f)))() : d3.symbol().type(thinDiamond)();
			plot.append("path")
				.attr("d", sym)
				.attr("transform", "translate(" + px(t[j]) + "," + y(o.trackY[i][j]) + ")")
				.attr("fill", fesc(f));
		});
	});

	// observed galaxies
	o.obs.forEach(function(d, i) {
		plot.append("circle")
			.attr("cx", px(d[0])).attr("cy", y(obsY[i])).attr("r", 6.8)
			.attr("fill", fesc(obsFesc[i])).attr("stroke", "#000").attr("stroke-width", 1.3);
	});
	o.obs.forEach(function(d, i) {
		plot.append("line")
			.attr("x1", px(d[0])).attr("x2", px(d[0]))
			.attr("y1", y(obsYlo[i])).attr("y2", y(obsYhi[i]))
			.attr("stroke", "#000").attr("stroke-width", 2);
		if (d[2] === null) {
			// upper limit
			plot.append("line")
				.attr("x1", px(d[1]) + 3).attr("x2", px(d[0]))
				.attr("y1", y(obsY[i])).attr("y2", y(obsY[i]))
				.attr("stroke", "#000").attr("stroke-width", 2);
			plot.append("path")
				.attr("d", d3.symbol().type({ draw: function(ctx) {
					ctx.moveTo(-4, 0); ctx.lineTo(3, -4.5); ctx.lineTo(3, 4.5); ctx.closePath();
				}})())
				.attr("transform", "translate(" + (px(d[1]) + 3) + "," + y(obsY[i]) + ")")
				.attr("fill", "#000");
		} else {
			plot.append("line")
				.attr("x1", px(d[1])).attr("x2", px(d[2]))
				.attr("y1", y(obsY[i])).attr("y2", y(obsY[i]))
				.attr("stroke", "#000").attr("stroke-width", 2);
		}
	});

	// omega labels
	o.labels.forEach(function(l) {
		var t = g.append("text")
			.attr("x", px(l[1])).attr("y", y(l[2]))
			.attr("dy", "0.36em")
			.style("font-size", "16px");
		if (l[0] == "w") {
			t.append("tspan").style("font-style", "italic").text("\u03c9");
			t.append("tspan").text("=0.99");
		} else {
			t.text(l[0]);
		}
	});

	// frame
	g.append("rect")
		.attr("x", o.left).attr("y", o.top)
		.attr("width", o.right - o.left).attr("height", o.bottom - o.top)
		.attr("fill", "none").attr("stroke", "#3c3c3c").attr("stroke-width", 1.2);

	// y axis
	var yAxis = g.append("g")
		.attr("transform", "translate(" + o.left + ",0)")
		.call(d3.axisLeft(y).tickValues(yTicks).tickFormat(d3.format("d")).tickSize(7).tickPadding(3));
	yAxis.select(".domain").remove();
	yAxis.selectAll("line").attr("stroke", "#000").attr("stroke-width", 1.3);
	yAxis.selectAll("text").style("font-size", "26px").style("font-family", "DejaVu Sans");

	// x axis, minor ticks
	var lo = Math.log10(o.domain[0]), hi = Math.log10(o.domain[1]);
	var minor = decades(Math.floor(lo), Math.ceil(hi)).filter(function(v) {
		return v >= o.domain[0] * 0.999 && v <= o.domain[1] * 1.001;
	});
	var xMinor = g.append("g")
		.attr("transform", "translate(0," + o.bottom + ")")
		.call(d3.axisBottom(x).tickValues(minor).tickFormat("").tickSize(6));
	xMinor.select(".domain").remove();
	xMinor.selectAll("line").attr("stroke", "#000").attr("stroke-width", 1.1);

	// x axis, major ticks run through the frame
	var xMajor = g.append("g")
		.attr("transform", "translate(0," + o.bottom + ")")
		.call(d3.axisBottom(x).tickValues(o.major).tickSize(10).tickPadding(8).tickFormat(function() { return ""; }));
	xMajor.select(".domain").remove();
	xMajor.selectAll("line").attr("y1", -10).attr("y2", 10)
		.attr("stroke", "#000").attr("stroke-width", 1.6);
	xMajor.selectAll(".tick text").each(function(d) {
		var t = d3.select(this).attr("y", 34).attr("dy", null)
			.style("font-size", "26px").style("font-family", "DejaVu Sans");
		t.append("tspan").text("10");
		t.append("tspan").attr("dy", "-10").style("font-size", "18px")
			.text("\u2212" + Math.abs(Math.round(Math.log10(d))));
	});

	// axis titles
	var xl = g.append("text")
		.attr("x", (o.left + o.right) / 2 + o.xlabelShift).attr("y", o.bottom + 65)
		.attr("text-anchor", "middle")
		.style("font-size", "26.4px");
	xl.append("tspan").text(o.xlabel[0]);
	xl.append("tspan").style("font-style", "italic").text("\u03bb");
	if (o.xlabel.length > 2) xl.append("tspan").style("font-style", "italic").text("\u03bb");
	xl.append("tspan").text(o.xlabel[o.xlabel.length - 1] + " / ");
	xl.append("tspan").style("font-style", "italic").text("H\u03b1");

	if (o.ylabel) {
		var yl = g.append("text")
			.attr("transform", "translate(31," + ((o.top + o.bottom) / 2 + 7) + ") rotate(-90)")
			.attr("text-anchor", "middle")
			.style("font-size", "26.4px");
		yl.append("tspan").text("[OIII]");
		yl.append("tspan").style("font-style", "italic").text("\u03bb");
		yl.append("tspan").text("5007A / ");
		yl.append("tspan").style("font-style", "italic").text("H\u03b2");
	}
}

function colorbar(top, bottom) {
	var c = d3.scaleLinear().domain([0, 0.8]).range([bottom, top]);
	var g = svg.append("g");
	g.selectAll("rect").data(fescColors).enter().append("rect")
		.attr("x", 1100).attr("width", 14.5)
		.attr("y", function(d, i) { return c((i + 1) / 10); })
		.attr("height", function(d, i) { return c(i / 10) - c((i + 1) / 10) + 0.4; })
		.attr("fill", function(d) { return d; });
	g.append("rect")
		.attr("x", 1100).attr("y", top).attr("width", 14.5).attr("height", bottom - top)
		.attr("fill", "none").attr("stroke", "#222").attr("stroke-width", 1);
	var ax = g.append("g")
		.attr("transform", "translate(1114.5,0)")
		.call(d3.axisRight(c).tickValues(fescTicks).tickFormat(d3.format(".1f")).tickSize(5).tickPadding(5));
	ax.select(".domain").remove();
	ax.selectAll("line").attr("stroke", "#000").attr("stroke-width", 1.2);
	ax.selectAll("text").style("font-size", "26px").style("font-family", "DejaVu Sans");
	var t = g.append("text")
		.attr("transform", "translate(1190," + ((top + bottom) / 2 + 3) + ") rotate(-90)")
		.attr("text-anchor", "middle")
		.style("font-size", "26px");
	t.append("tspan").style("font-style", "italic").text("f");
	t.append("tspan").attr("dy", "5").style("font-size", "18px").style("font-style", "italic").text("esc");
}

var cols = [
	{ key: "NII", domain: [0.005, 0.5], left: 71, right: 378, major: [0.01, 0.1], xlabel: ["[NII]", "6584A"], xlabelShift: 0, gray: grayNII, core: coreNII, obs: obsNII, blue: blueNII, dash: dashNII, top: topNII, bot: botNII, lt: topLabelsNII, lb: botLabelsNII, ylabel: true },
	{ key: "SII", domain: [0.005, 0.5], left: 439.3, right: 746.5, major: [0.01, 0.1], xlabel: ["[SII]", "", "6716,6731A"], xlabelShift: 3, gray: graySII, core: coreSII, obs: obsSII, blue: blueSII, dash: dashSII, top: topSII, bot: botSII, lt: topLabelsSII, lb: botLabelsSII, ylabel: false },
	{ key: "OI", domain: [0.001, 0.1], left: 807.7, right: 1095.7, major: [0.001, 0.01, 0.1], xlabel: ["[OI]", "6300A"], xlabelShift: 4, gray: grayOI, core: coreOI, obs: obsOI, blue: blueOI, dash: dashOI, top: topOI, bot: botOI, lt: topLabelsOI, lb: botLabelsOI, ylabel: false }
];

cols.forEach(function(c) {
	panel({ id: c.key + "t", domain: c.domain, left: c.left, right: c.right, top: 13, bottom: 537, major: c.major, xlabel: c.xlabel, xlabelShift: c.xlabelShift, ylabel: c.ylabel,
		gray: c.gray, core: c.core, obs: c.obs, blue: c.blue, dash: c.dash, tracks: c.top, trackY: topY, trackFesc: topFesc, rows: topRows, labels: c.lt, marker: "tri" });
	panel({ id: c.key + "b", domain: c.domain, left: c.left, right: c.right, top: 683.7, bottom: 1207, major: c.major, xlabel: c.xlabel, xlabelShift: c.xlabelShift, ylabel: c.ylabel,
		gray: c.gray, core: c.core, obs: c.obs, blue: c.blue, dash: c.dash, tracks: c.bot, trackY: botY, trackFesc: botFesc, rows: botRows, labels: c.lb, marker: "dia" });
});
colorbar(13, 537);
colorbar(683.7, 1207);
</script>
</body>
</html>
